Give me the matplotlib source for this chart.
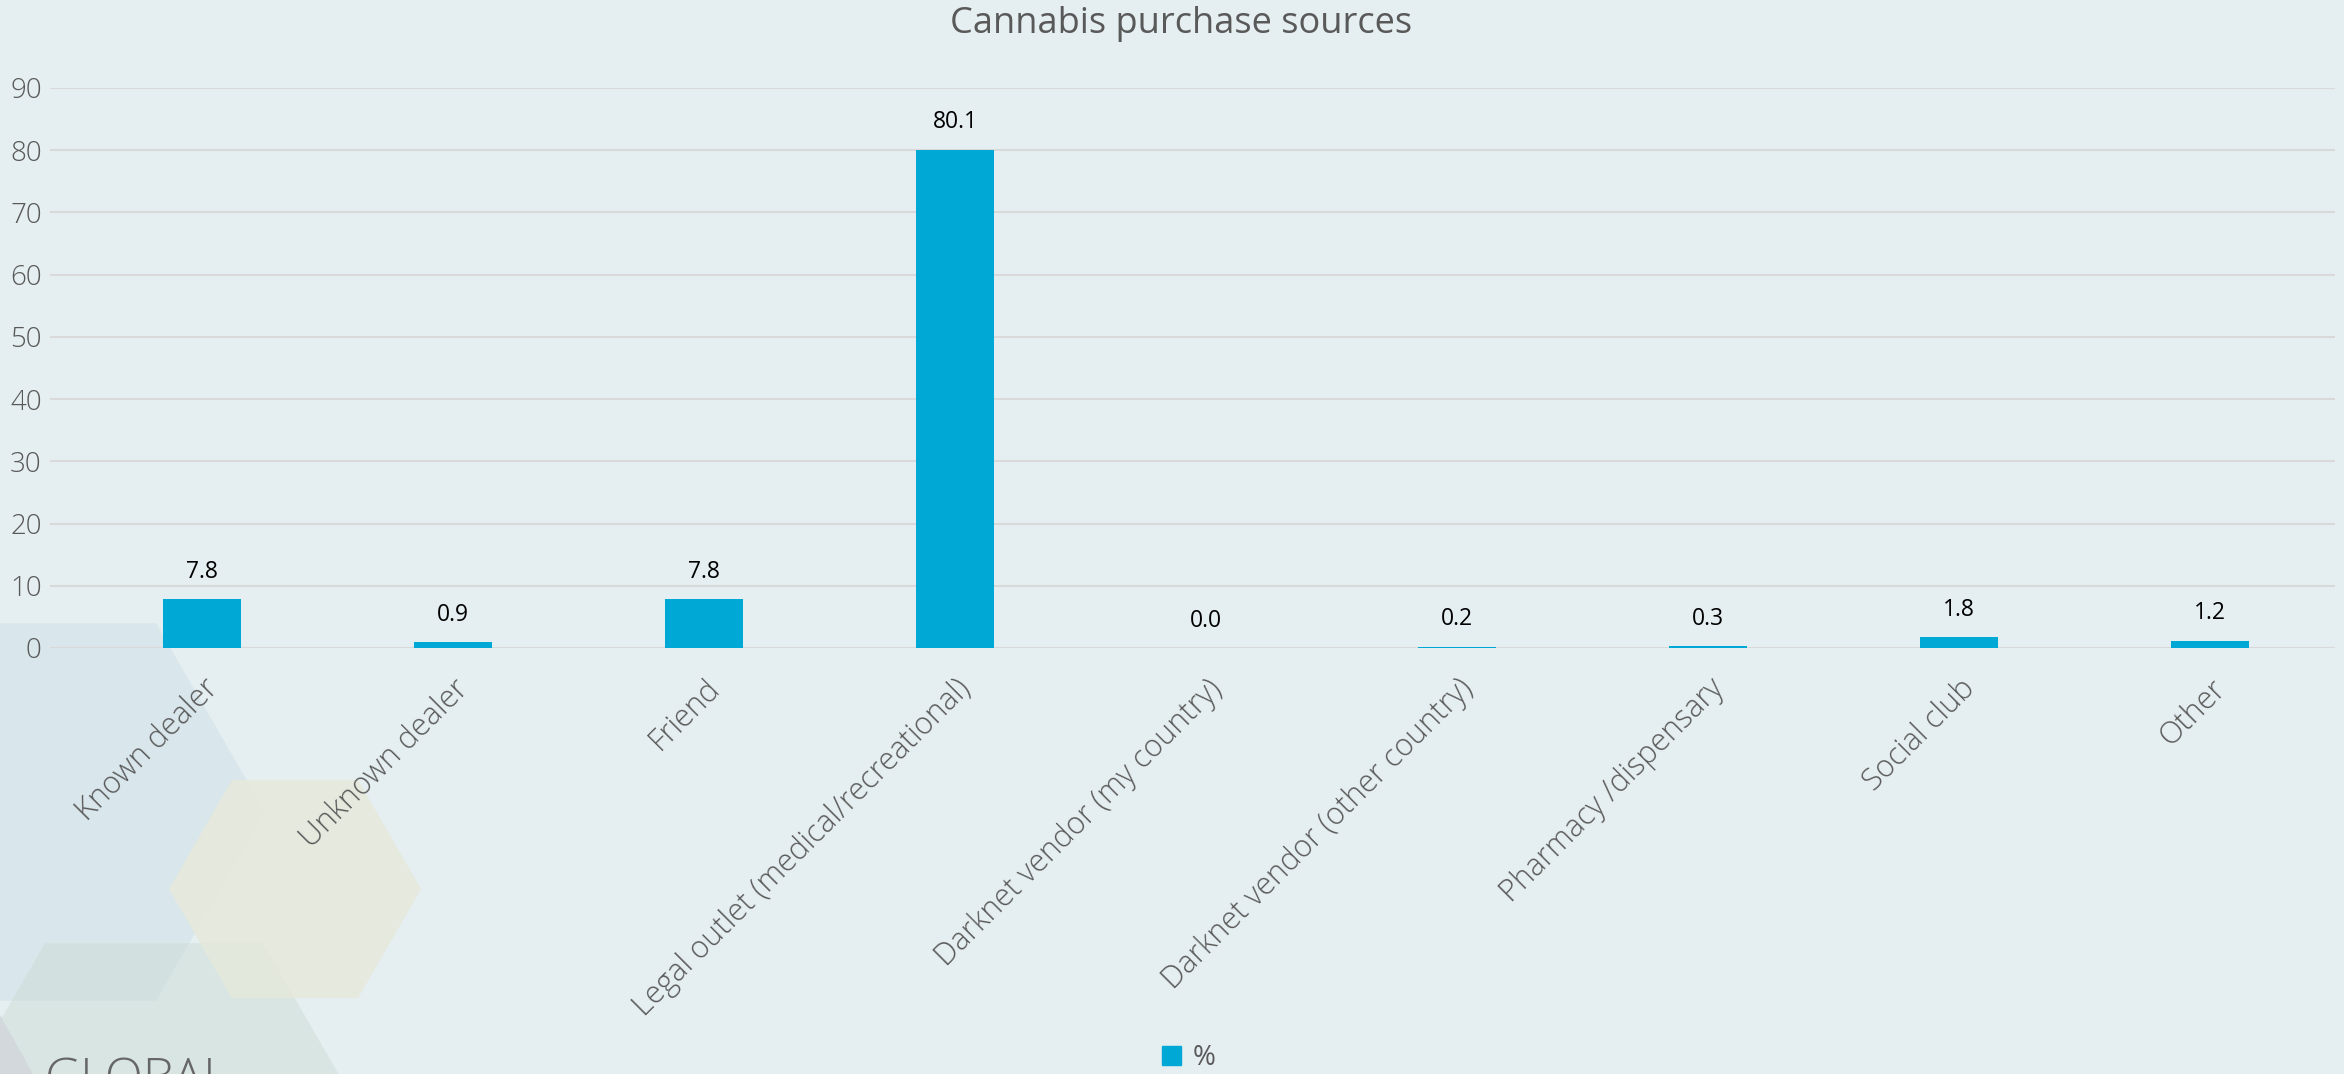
import numpy as np
import matplotlib
matplotlib.use("Agg")
from matplotlib import pyplot as plt
from matplotlib.patches import Polygon, Rectangle

# chart data
categories = ["Known dealer", "Unknown dealer", "Friend",
              "Legal outlet (medical/recreational)",
              "Darknet vendor (my country)", "Darknet vendor (other country)",
              "Pharmacy /dispensary", "Social club", "Other"]
percent = [7.8, 0.9, 7.8, 80.1, 0.0, 0.2, 0.3, 1.8, 1.2]
y_ticks = [0, 10, 20, 30, 40, 50, 60, 70, 80, 90]

W, H = 2344, 1074
BG = "#E5EEF0"
BAR = "#00A8D6"
GREY = "#595959"

plt.rcParams['font.family'] = ['Open Sans', 'DejaVu Sans']

fig = plt.figure(figsize=(W / 100, H / 100), dpi=100, facecolor=BG)


def px(points):
    # pixel coords (top-left origin) -> figure fraction
    return [(x / W, 1 - y / H) for x, y in points]


def hexagon(cx, cy, r):
    h = r * np.sqrt(3) / 2
    return px([(cx - r, cy), (cx - r / 2, cy - h), (cx + r / 2, cy - h),
               (cx + r, cy), (cx + r / 2, cy + h), (cx - r / 2, cy + h)])


# decorative background shapes (bottom left), kept behind the axes
fig.patches.append(Polygon(hexagon(47, 812, 218), closed=True, transform=fig.transFigure,
                           facecolor="#D9E6EB", edgecolor="none", zorder=-3))
fig.patches.append(Polygon(hexagon(154, 1132, 218), closed=True, transform=fig.transFigure,
                           facecolor="#CDDED6", alpha=0.5, edgecolor="none", zorder=-3))
fig.patches.append(Polygon(hexagon(295, 889, 126), closed=True, transform=fig.transFigure,
                           facecolor="#E6E9DB", alpha=0.85, edgecolor="none", zorder=-3))
fig.patches.append(Polygon(px([(0, 1015), (33, 1074), (0, 1074)]), closed=True,
                           transform=fig.transFigure, facecolor="#D3D8DD",
                           edgecolor="none", zorder=-3))
fig.text(45 / W, (H - 1094) / H, "GLOBAL", fontsize=36, color="#666666",
         fontweight="light", ha="left", va="baseline", zorder=-2)

ax = fig.add_axes([50 / W, 1 - 648 / H, (2335 - 50) / W, (648 - 88) / H])
ax.set_facecolor("none")

x = np.arange(len(categories))
bars = ax.bar(x, percent, width=0.31, color=BAR, zorder=3, label="%")

for xi, v in zip(x, percent):
    ax.annotate(f"{v:.1f}", (xi, v), xytext=(0, 11), textcoords="offset points",
                ha="center", va="bottom", fontsize=16.5, color="black")

ax.set_xlim(-0.606, 8.498)
ax.set_ylim(0, 90)
ax.set_yticks(y_ticks)
ax.yaxis.grid(True, color="#D9D9D9", linewidth=1.5, zorder=0)
ax.set_axisbelow(True)
for s in ax.spines.values():
    s.set_visible(False)
ax.tick_params(axis="both", length=0, labelcolor=GREY)
ax.tick_params(axis="y", pad=6, labelsize=20)
ax.tick_params(axis="x", pad=18, labelsize=22)
ax.set_xticks(x)
ax.set_xticklabels(categories, rotation=45, ha="right", va="top",
                   rotation_mode="anchor", fontweight="light")
for lbl in ax.get_yticklabels():
    lbl.set_fontweight("light")

fig.text(0.504, 1 - 24 / H, "Cannabis purchase sources", fontsize=26, color=GREY,
         ha="center", va="center")

fig.legend(handles=[Rectangle((0, 0), 1, 1, color=BAR)], labels=["%"],
           loc="center", bbox_to_anchor=(0.507, 1 - 1058 / H), frameon=False,
           fontsize=20, handlelength=0.7, handleheight=0.7, handletextpad=0.4,
           labelcolor=GREY)

fig.savefig("out.png", dpi=100, facecolor=BG)
